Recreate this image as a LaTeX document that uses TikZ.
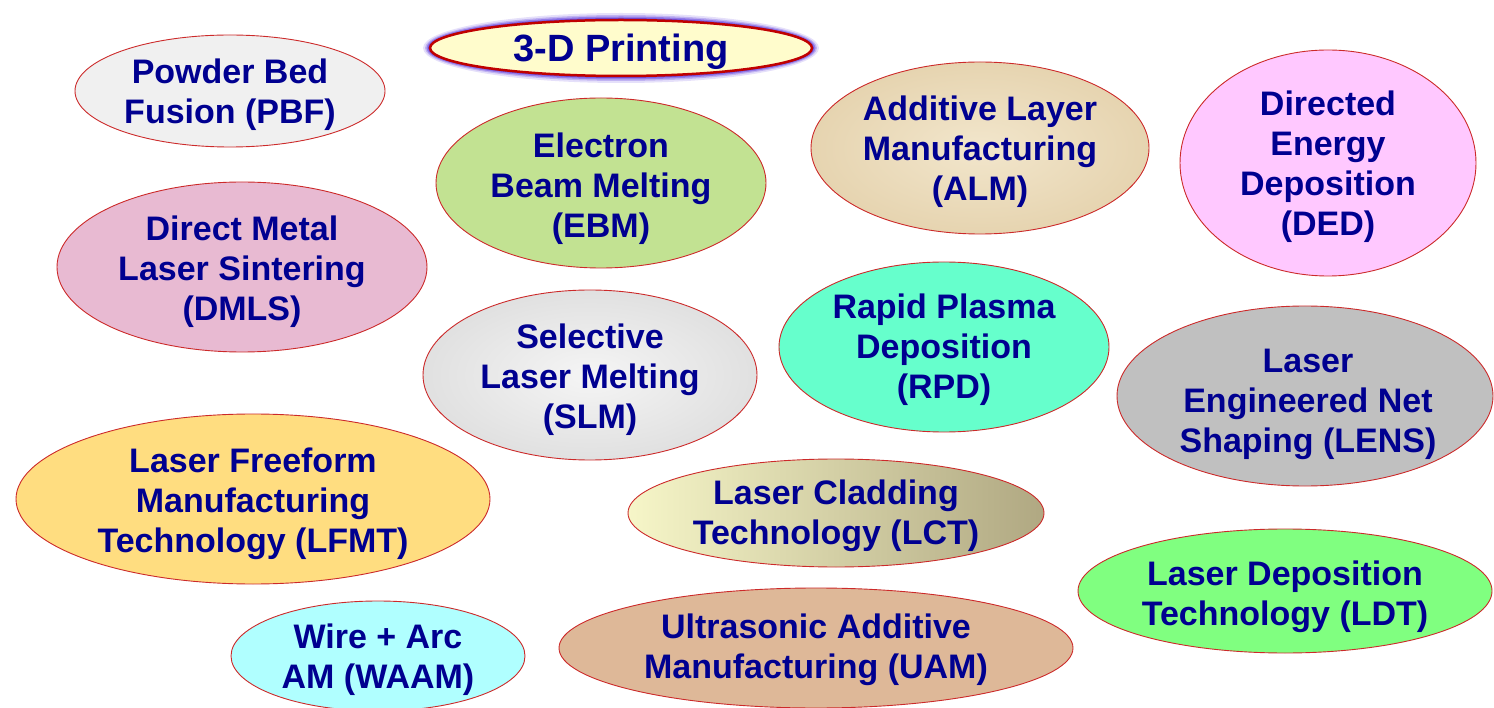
\documentclass[tikz,border=0pt]{standalone}
\usepackage{fontspec}
\setmainfont{Liberation Sans}
\usetikzlibrary{shapes.geometric}
\definecolor{txt}{HTML}{000090}
\definecolor{edge}{HTML}{CC2A2A}
\tikzset{
  oval/.style={ellipse, draw=edge, line width=0.9pt, inner sep=0pt},
  ovaltext/.style={align=center, inner sep=0pt, text=txt, font=\bfseries\fontsize{34}{40}\selectfont},
}
% \ovalitem{name}{x}{y}{width}{height}{fill options}{text dx}{text dy}{text}
\newcommand\ovalitem[9]{%
  \node[oval, #6, minimum width=#4pt, minimum height=#5pt] (#1) at (#2,#3) {};
  \node[ovaltext] (#1-text) at ([xshift=#7pt, yshift=-#8pt]#1.center) {#9};
}
\begin{document}
\begin{tikzpicture}[x=1pt,y=-1pt]
\useasboundingbox (0,0) rectangle (1494,708);
% glow of the title
\foreach \i/\o in {7/0.12,5/0.2,3.5/0.3,2/0.4}{
  \fill[blue!65!violet, opacity=\o] (621,48) ellipse ({191+\i} and {28+\i});
}
\node[oval, fill=yellow!20, draw={rgb,255:red,192;green,0;blue,0}, line width=2.5pt,
  minimum width=382pt, minimum height=56pt] (title) at (621,48) {};
\node[ovaltext, font=\bfseries\fontsize{38}{44}\selectfont] (title-text) at ([yshift=-4pt]title.center) {3-D Printing};
\ovalitem{pbf}{230}{91}{310}{112}{fill=black!6}{0}{4}{Powder Bed\\Fusion (PBF)}
\ovalitem{ebm}{601}{183}{330}{170}{fill={rgb,255:red,194;green,226;blue,146}}{0}{6}{Electron\\Beam Melting\\(EBM)}
\ovalitem{alm}{980}{148}{338}{172}{inner color={rgb,255:red,242;green,230;blue,204}, outer color={rgb,255:red,230;green,212;blue,176}}{0}{4}{Additive Layer\\Manufacturing\\(ALM)}
\ovalitem{ded}{1328}{163}{296}{226}{fill={rgb,255:red,255;green,200;blue,255}}{0}{4}{Directed\\Energy\\Deposition\\(DED)}
\ovalitem{dmls}{242}{267}{370}{170}{fill={rgb,255:red,232;green,186;blue,210}}{0}{5}{Direct Metal\\Laser Sintering\\(DMLS)}
\ovalitem{slm}{590}{375}{334}{170}{inner color=black!4, outer color=black!12}{0}{5}{Selective\\Laser Melting\\(SLM)}
\ovalitem{rpd}{944}{347}{330}{170}{fill={rgb,255:red,102;green,255;blue,204}}{0}{3}{Rapid Plasma\\Deposition\\(RPD)}
\ovalitem{lens}{1305}{396}{376}{180}{fill={rgb,255:red,192;green,192;blue,192}}{3}{8}{Laser\\Engineered Net\\Shaping (LENS)}
\ovalitem{lfmt}{253}{499}{474}{170}{fill={rgb,255:red,255;green,221;blue,128}}{0}{5}{Laser Freeform\\Manufacturing\\Technology (LFMT)}
\ovalitem{lct}{836}{513}{416}{108}{shading=axis, shading angle=240, left color={rgb,255:red,246;green,246;blue,200}, right color={rgb,255:red,176;green,168;blue,130}}{0}{3}{Laser Cladding\\Technology (LCT)}
\ovalitem{ldt}{1285}{591}{414}{124}{fill={rgb,255:red,128;green,255;blue,128}}{0}{6}{Laser Deposition\\Technology (LDT)}
\ovalitem{waam}{378}{656}{294}{110}{fill={rgb,255:red,176;green,255;blue,255}}{0}{4}{Wire + Arc\\AM (WAAM)}
\ovalitem{uam}{816}{648}{514}{120}{fill={rgb,255:red,222;green,184;blue,152}}{0}{2}{Ultrasonic Additive\\Manufacturing (UAM)}
\end{tikzpicture}
\end{document}
